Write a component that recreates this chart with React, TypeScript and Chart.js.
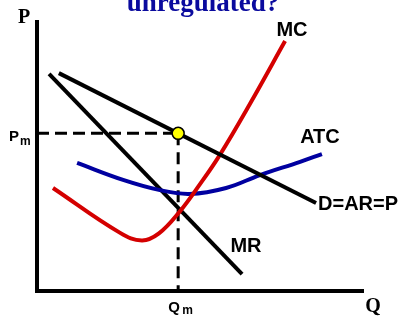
import React, { useEffect, useRef } from "react";
import { Chart, registerables } from "chart.js";

Chart.register(...registerables);

// Data (Q on x, P on y, both in 0..100 units)
const demandQ = [6.7, 85.6];
const demandP = [81.0, 32.7];
const mrQ = [3.7, 62.9];
const mrP = [80.7, 6.3];
const mcQ = [4.9, 25.5, 32.2, 37.4, 43.9, 50.0, 56.1, 65.3, 76.1];
const mcP = [38.3, 21.6, 18.8, 21.4, 29.7, 39.7, 50.6, 69.5, 92.9];
const atcQ = [12.3, 26.4, 37.7, 46.9, 58.0, 68.4, 80.7, 87.4];
const atcP = [47.6, 41.3, 37.5, 36.1, 38.3, 43.1, 48.0, 50.9];
const qm = 43.3;
const pm = 58.6;

const curveLabels = ["MC", "ATC", "D=AR=P", "MR"];
const curveLabelQ = [78.2, 86.8, 86.2, 64.1];
const curveLabelP = [97.0, 57.2, 32.2, 16.7];
const curveLabelAlign: CanvasTextAlign[] = ["center", "center", "left", "center"];

const titleText = "unregulated?";

const zip = (xs: number[], ys: number[]) => xs.map((x, i) => ({ x, y: ys[i] }));

const SANS = '"Liberation Sans", Arial, sans-serif';
const SERIF = '"Liberation Serif", "Times New Roman", serif';

const labelPlugin = {
  id: "econLabels",
  afterDatasetsDraw(chart: any) {
    const { ctx, chartArea, scales } = chart;
    const xs = scales.x;
    const ys = scales.y;
    ctx.save();
    // title (cut at top)
    ctx.fillStyle = "#0a0a9e";
    ctx.font = `bold 27px ${SERIF}`;
    ctx.textAlign = "center";
    ctx.textBaseline = "alphabetic";
    ctx.fillText(titleText, 203, 11);

    // axis names
    ctx.fillStyle = "#000";
    ctx.font = `bold 20px ${SERIF}`;
    ctx.textAlign = "center";
    ctx.fillText("P", chartArea.left - 13, chartArea.top + 1);
    ctx.fillText("Q", chartArea.right + 10, chartArea.bottom + 21);

    // curve labels
    ctx.font = `bold 20px ${SANS}`;
    ctx.textBaseline = "middle";
    curveLabels.forEach((t, i) => {
      ctx.textAlign = curveLabelAlign[i];
      ctx.fillText(t, xs.getPixelForValue(curveLabelQ[i]), ys.getPixelForValue(curveLabelP[i]));
    });

    // Pm
    ctx.textBaseline = "alphabetic";
    ctx.textAlign = "left";
    const py = ys.getPixelForValue(pm);
    ctx.font = `bold 15px ${SANS}`;
    ctx.fillText("P", 9, py + 8);
    ctx.font = `bold 12px ${SANS}`;
    ctx.fillText("m", 20, py + 12);

    // Qm
    const qx = xs.getPixelForValue(qm);
    ctx.font = `bold 15px ${SANS}`;
    ctx.fillText("Q", qx - 10, chartArea.bottom + 21);
    ctx.font = `bold 12px ${SANS}`;
    ctx.fillText("m", qx + 4, chartArea.bottom + 23);
    ctx.restore();
  },
};

export default function App() {
  const ref = useRef<HTMLCanvasElement>(null);
  useEffect(() => {
    if (!ref.current) return;
    const chart = new Chart(ref.current, {
      type: "scatter",
      data: {
        datasets: [
          {
            data: [{ x: qm, y: pm }],
            pointRadius: 6,
            pointBackgroundColor: "#ffff00",
            pointBorderColor: "#000",
            pointBorderWidth: 1.5,
            showLine: false,
          },
          {
            data: zip(demandQ, demandP),
            showLine: true,
            borderColor: "#000",
            borderWidth: 4,
            pointRadius: 0,
          },
          {
            data: zip(mcQ, mcP),
            showLine: true,
            borderColor: "#d40000",
            borderWidth: 4,
            pointRadius: 0,
            tension: 0.4,
          },
          {
            data: zip(atcQ, atcP),
            showLine: true,
            borderColor: "#0000a0",
            borderWidth: 4,
            pointRadius: 0,
            tension: 0.4,
          },
          {
            data: zip(mrQ, mrP),
            showLine: true,
            borderColor: "#000",
            borderWidth: 4,
            pointRadius: 0,
          },
          {
            data: [
              { x: 0, y: pm },
              { x: qm, y: pm },
            ],
            showLine: true,
            borderColor: "#000",
            borderWidth: 3,
            borderDash: [12, 6],
            pointRadius: 0,
          },
          {
            data: [
              { x: qm, y: pm },
              { x: qm, y: 0 },
            ],
            showLine: true,
            borderColor: "#000",
            borderWidth: 3,
            borderDash: [12, 7],
            pointRadius: 0,
          },
        ],
      },
      options: {
        animation: false,
        responsive: false,
        layout: { padding: { left: 37, right: 41, top: 22, bottom: 27 } },
        plugins: {
          legend: { display: false },
          title: { display: false },
          tooltip: { enabled: false },
        },
        scales: {
          x: {
            type: "linear",
            min: 0,
            max: 100,
            grid: { display: false, drawTicks: false },
            ticks: { display: false },
            border: { display: true, color: "#000", width: 4 },
          },
          y: {
            type: "linear",
            min: 0,
            max: 100,
            grid: { display: false, drawTicks: false },
            ticks: { display: false },
            border: { display: true, color: "#000", width: 4 },
          },
        },
      },
      plugins: [labelPlugin],
    });
    return () => chart.destroy();
  }, []);
  return (
    <div style={{ position: "absolute", left: 0, top: 0, width: 404, height: 318, background: "#fff" }}>
      <canvas ref={ref} width={404} height={318} style={{ display: "block" }} />
    </div>
  );
}
